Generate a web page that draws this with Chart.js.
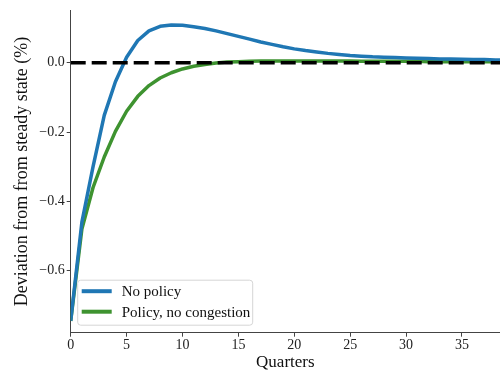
<!DOCTYPE html>
<html>
<head>
<meta charset="utf-8">
<script src="https://cdn.jsdelivr.net/npm/chart.js@4"></script>
<style>
  html, body { margin: 0; padding: 0; background: #fff; }
  #wrap { width: 500px; height: 375px; }
</style>
</head>
<body>
<div id="wrap"><canvas id="myChart" width="500" height="375"></canvas></div>
<script>
const quarters = [0,1,2,3,4,5,6,7,8,9,10,11,12,13,14,15,16,17,18,19,20,21,22,23,24,25,26,27,28,29,30,31,32,33,34,35,36,37,38,39];
const noPolicy = [-0.745,-0.46,-0.30,-0.152,-0.055,0.016,0.064,0.092,0.105,0.109,0.108,0.104,0.099,0.092,0.084,0.076,0.068,0.060,0.053,0.046,0.040,0.035,0.031,0.027,0.024,0.021,0.019,0.017,0.016,0.015,0.014,0.013,0.012,0.011,0.011,0.010,0.009,0.009,0.008,0.008];
const policyNoCongestion = [-0.745,-0.48,-0.36,-0.272,-0.198,-0.14,-0.097,-0.066,-0.044,-0.029,-0.018,-0.010,-0.005,-0.001,0.002,0.003,0.004,0.005,0.005,0.005,0.005,0.005,0.005,0.005,0.005,0.005,0.004,0.004,0.004,0.004,0.004,0.004,0.003,0.003,0.003,0.003,0.003,0.003,0.003,0.003];
const steadyState = [0, 0];
const steadyQuarters = [0, 39];
const xTicks = [0, 5, 10, 15, 20, 25, 30, 35];
const yTicks = [-0.6, -0.4, -0.2, 0.0];
const seriesLabels = ['No policy', 'Policy, no congestion'];

const serif = "'Liberation Serif', 'DejaVu Serif', serif";
const axisColor = '#444';

function toPoints(xs, ys) {
  return xs.map((x, i) => ({ x: x, y: ys[i] }));
}

// legend drawn inside the plot, bottom left, like matplotlib
const insideLegend = {
  id: 'insideLegend',
  afterDraw(chart) {
    const ctx = chart.ctx;
    const area = chart.chartArea;
    const items = chart.data.datasets.filter(d => d.label);
    const boxX = area.left + 7;
    const boxW = 175;
    const boxH = 45;
    const boxY = area.bottom - 7.5 - boxH;
    ctx.save();
    ctx.beginPath();
    ctx.roundRect(boxX, boxY, boxW, boxH, 3);
    ctx.fillStyle = 'rgba(255,255,255,0.8)';
    ctx.fill();
    ctx.strokeStyle = '#d5d5d5';
    ctx.lineWidth = 1;
    ctx.stroke();
    ctx.font = '15px ' + serif;
    ctx.textBaseline = 'middle';
    items.forEach((d, i) => {
      const y = boxY + 11 + i * 20.5;
      ctx.beginPath();
      ctx.moveTo(boxX + 4, y);
      ctx.lineTo(boxX + 34, y);
      ctx.strokeStyle = d.borderColor;
      ctx.lineWidth = 4;
      ctx.stroke();
      ctx.fillStyle = '#111';
      ctx.fillText(d.label, boxX + 44, y + 1);
    });
    ctx.restore();
  }
};

const ctx = document.getElementById('myChart').getContext('2d');
new Chart(ctx, {
  type: 'line',
  data: {
    datasets: [
      {
        data: toPoints(steadyQuarters, steadyState),
        borderColor: '#000',
        borderWidth: 3.5,
        borderDash: [15, 6],
        pointRadius: 0
      },
      {
        label: seriesLabels[0],
        data: toPoints(quarters, noPolicy),
        borderColor: '#1f77b4',
        borderWidth: 3.5,
        pointRadius: 0,
        borderJoinStyle: 'round',
        tension: 0
      },
      {
        label: seriesLabels[1],
        data: toPoints(quarters, policyNoCongestion),
        borderColor: '#3e9330',
        borderWidth: 3.5,
        pointRadius: 0,
        borderJoinStyle: 'round',
        tension: 0
      }
    ]
  },
  options: {
    responsive: false,
    animation: false,
    layout: { padding: { top: 7, right: 0, left: 0, bottom: 0 } },
    plugins: {
      legend: { display: false },
      tooltip: { enabled: false }
    },
    scales: {
      x: {
        type: 'linear',
        min: 0,
        max: 38.4,
        afterBuildTicks: scale => { scale.ticks = xTicks.map(v => ({ value: v })); },
        afterFit: scale => { scale.height = 42.3; },
        ticks: {
          color: '#222',
          font: { family: serif, size: 14 },
          padding: 0,
          maxRotation: 0
        },
        grid: { display: true, drawOnChartArea: false, tickLength: 4, tickColor: axisColor },
        border: { color: axisColor, width: 1 },
        title: {
          display: true,
          text: 'Quarters',
          color: '#111',
          font: { family: serif, size: 17 },
          padding: { top: 0, bottom: 2 }
        }
      },
      y: {
        type: 'linear',
        min: -0.779,
        max: 0.151,
        afterBuildTicks: scale => { scale.ticks = yTicks.map(v => ({ value: v })); },
        afterFit: scale => { scale.width = 70.7; },
        ticks: {
          color: '#222',
          font: { family: serif, size: 14 },
          padding: 2,
          callback: v => v.toFixed(1).replace('-', '\u2212')
        },
        grid: { display: true, drawOnChartArea: false, tickLength: 4, tickColor: axisColor },
        border: { color: axisColor, width: 1 },
        title: {
          display: true,
          text: 'Deviation from from steady state (%)',
          color: '#111',
          font: { family: serif, size: 18 },
          padding: { top: 11, bottom: 0 }
        }
      }
    }
  },
  plugins: [insideLegend]
});
</script>
</body>
</html>
